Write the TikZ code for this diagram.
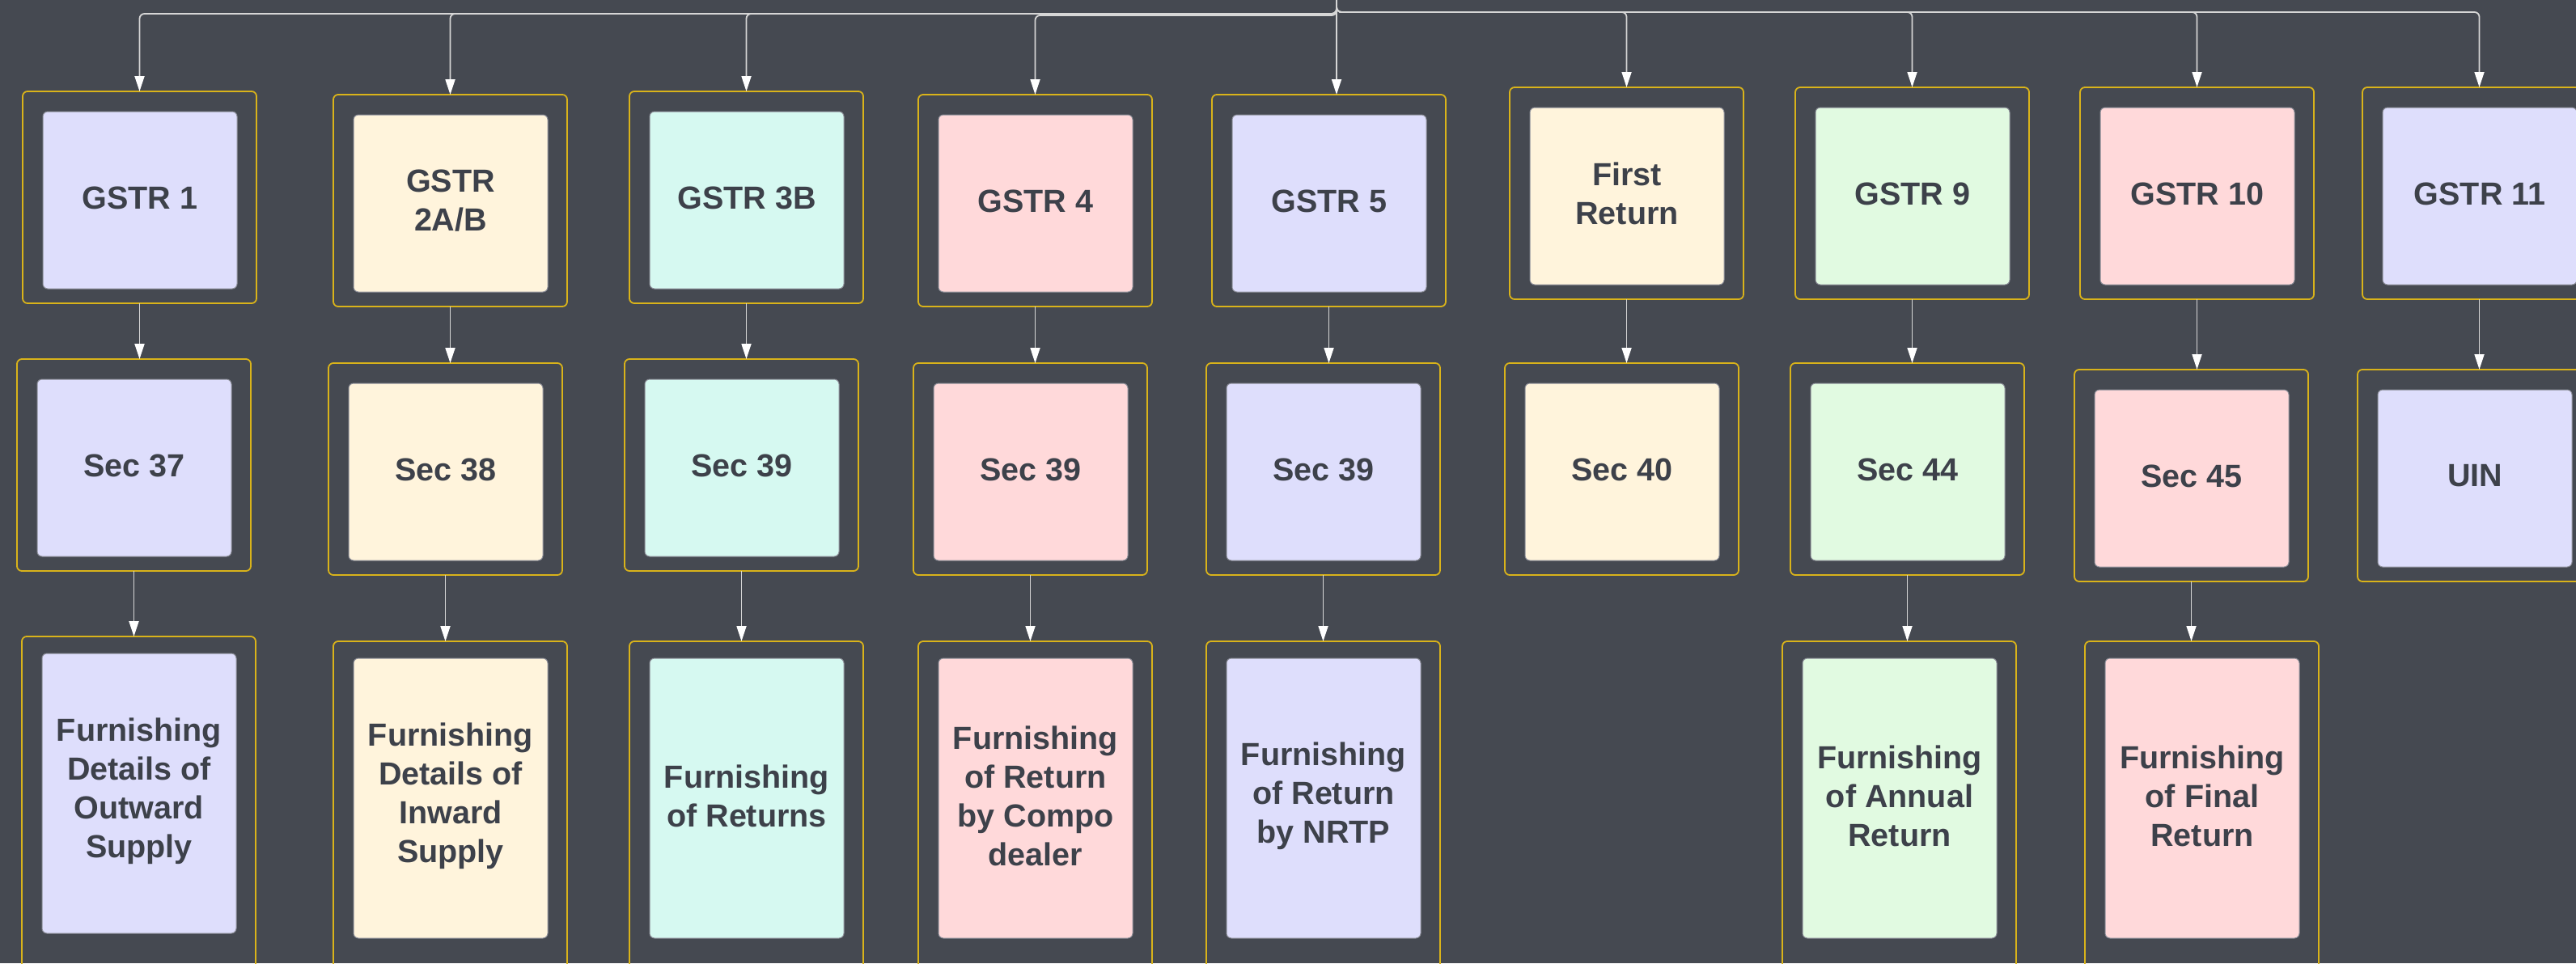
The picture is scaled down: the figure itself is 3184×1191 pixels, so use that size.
\documentclass[tikz,border=0pt]{standalone}
\usepackage{fontspec}
\setmainfont{Liberation Sans}
\usetikzlibrary{arrows.meta}

\definecolor{bg}{HTML}{454951}
\definecolor{gold}{HTML}{D9B31A}
\definecolor{linec}{HTML}{D6D6D6}
\definecolor{textc}{HTML}{3D414A}
\definecolor{rimc}{HTML}{8E909A}
\definecolor{lav}{HTML}{DEDEFC}
\definecolor{cream}{HTML}{FFF4DC}
\definecolor{mint}{HTML}{D6F9F1}
\definecolor{pink}{HTML}{FFD9DA}
\definecolor{green}{HTML}{E1FAE1}

\tikzset{
  outerbox/.style={draw=gold, line width=1.8pt, rounded corners=6pt,
    minimum width=289pt, inner sep=0pt, outer sep=0pt},
  innerbox/.style={draw=rimc, line width=1pt, rounded corners=6pt,
    minimum width=240pt, inner sep=0pt, outer sep=0pt},
  cardtext/.style={text=textc, align=center, inner sep=0pt,
    font=\bfseries\fontsize{39.5}{48}\selectfont},
  conn/.style={draw=linec, line width=1.8pt,
    -{Triangle[length=19pt,width=12pt,color=white]}},
}

% #1 name, #2 left, #3 top, #4 frame height, #5 top padding,
% #6 card height, #7 card colour, #8 label
\newcommand\gcard[8]{%
  \node[outerbox, minimum height=#4pt, anchor=north west] (#1) at (#2,#3) {};
  \node[innerbox, fill=#7, minimum height=#6pt, anchor=north west]
    (#1-in) at ([xshift=25pt,yshift=-#5pt]#1.north west) {};
  \node[cardtext] (#1-txt) at ([yshift=3pt]#1-in.center) {#8};
}
\newcommand\formbox[5]{\gcard{#1}{#2}{#3}{262}{25}{219}{#4}{#5}}
\newcommand\detailbox[5]{\gcard{#1}{#2}{#3}{470}{21}{346}{#4}{#5}}

\begin{document}
\begin{tikzpicture}[x=1pt, y=-1pt]
  \useasboundingbox (0,0) rectangle (3184,1191);
  \clip (0,0) rectangle (3184,1191);
  \fill[bg] (0,0) rectangle (3184,1191);

  % returns
  \formbox{r1}{28}{113}{lav}{GSTR 1}
  \formbox{r2}{412}{117}{cream}{GSTR\\2A/B}
  \formbox{r3}{778}{113}{mint}{GSTR 3B}
  \formbox{r4}{1135}{117}{pink}{GSTR 4}
  \formbox{r5}{1498}{117}{lav}{GSTR 5}
  \formbox{r6}{1866}{108}{cream}{First\\Return}
  \formbox{r7}{2219}{108}{green}{GSTR 9}
  \formbox{r8}{2571}{108}{pink}{GSTR 10}
  \formbox{r9}{2920}{108}{lav}{GSTR 11}

  % sections
  \formbox{s1}{21}{444}{lav}{Sec 37}
  \formbox{s2}{406}{449}{cream}{Sec 38}
  \formbox{s3}{772}{444}{mint}{Sec 39}
  \formbox{s4}{1129}{449}{pink}{Sec 39}
  \formbox{s5}{1491}{449}{lav}{Sec 39}
  \formbox{s6}{1860}{449}{cream}{Sec 40}
  \formbox{s7}{2213}{449}{green}{Sec 44}
  \formbox{s8}{2564}{457}{pink}{Sec 45}
  \formbox{s9}{2914}{457}{lav}{UIN}

  % purposes
  \detailbox{d1}{27}{787}{lav}{Furnishing\\Details of\\Outward\\Supply}
  \detailbox{d2}{412}{793}{cream}{Furnishing\\Details of\\Inward\\Supply}
  \detailbox{d3}{778}{793}{mint}{Furnishing\\of Returns}
  \detailbox{d4}{1135}{793}{pink}{Furnishing\\of Return\\by Compo\\dealer}
  \detailbox{d5}{1491}{793}{lav}{Furnishing\\of Return\\by NRTP}
  \detailbox{d7}{2203}{793}{green}{Furnishing\\of Annual\\Return}
  \detailbox{d8}{2577}{793}{pink}{Furnishing\\of Final\\Return}

  % fan-out from the common root above
  \coordinate (root) at (1652,-60);
  \coordinate (busA) at (0,17);
  \coordinate (busB) at (0,19);
  \coordinate (busC) at (0,15);
  \foreach \n/\b in {r1/busA, r2/busA, r3/busA, r4/busB,
                     r6/busC, r7/busC, r8/busC, r9/busC}{
    \draw[conn, rounded corners=6pt] (root) |- (\n.north |- \b) -- (\n.north);
  }
  \draw[conn] (root) -- (root |- r5.north);

  % downward links within each column
  \foreach \a/\c in {r1/s1, r2/s2, r3/s3, r4/s4, r5/s5, r6/s6, r7/s7, r8/s8, r9/s9,
                     s1/d1, s2/d2, s3/d3, s4/d4, s5/d5, s7/d7, s8/d8}{
    \draw[conn] (\a.south) -- (\a.south |- \c.north);
  }
\end{tikzpicture}
\end{document}
